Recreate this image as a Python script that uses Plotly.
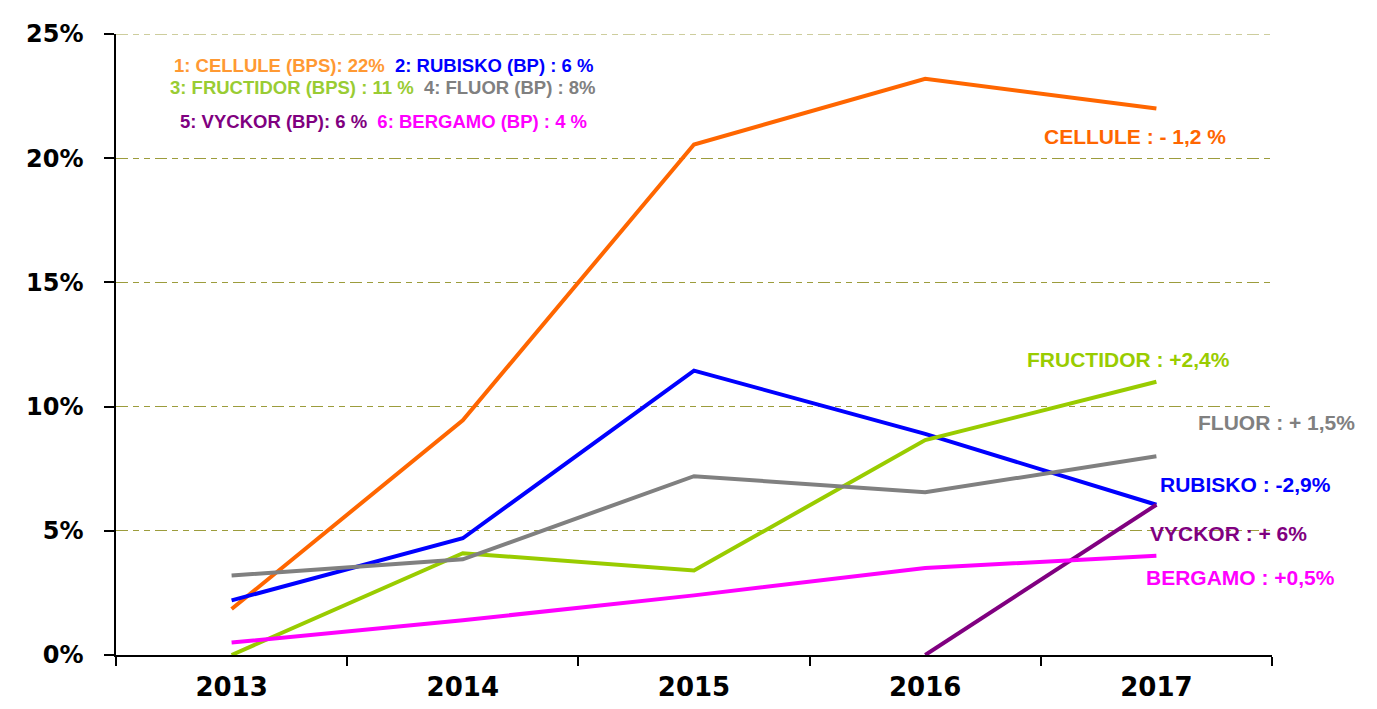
import plotly.graph_objects as go

years = ["2013", "2014", "2015", "2016", "2017"]
cellule = [1.85, 9.45, 20.55, 23.2, 22.0]
rubisko = [2.2, 4.7, 11.45, 8.9, 6.05]
fructidor = [0.0, 4.1, 3.4, 8.65, 11.0]
fluor = [3.2, 3.85, 7.2, 6.55, 8.0]
vyckor = [None, None, None, 0.0, 6.05]
bergamo = [0.5, 1.4, 2.4, 3.5, 4.0]

names = ["CELLULE", "RUBISKO", "FRUCTIDOR", "FLUOR", "VYCKOR", "BERGAMO"]
series = [cellule, rubisko, fructidor, fluor, vyckor, bergamo]
colors = ["#FF6600", "#0000FF", "#99CC00", "#808080", "#800080", "#FF00FF"]

y_ticks = [0, 5, 10, 15, 20, 25]
y_ticklabels = ["0%", "5%", "10%", "15%", "20%", "25%"]

end_labels = ["CELLULE : - 1,2 %", "RUBISKO : -2,9%", "FRUCTIDOR : +2,4%",
              "FLUOR : + 1,5%", "VYCKOR : + 6%", "BERGAMO : +0,5%"]
end_label_colors = ["#FF6600", "#0000FF", "#99CC00", "#808080", "#800080", "#FF00FF"]
# pixel centres on the page used for placement
end_label_pos = [(1135, 130), (1245, 482), (1128, 356), (1276, 420), (1228, 532), (1240, 577)]

W, H = 1377, 709
OFF = 8  # default body margin of the html page
L, R, T, B = 108, 113, 18, 62
PL, PT = L + OFF, T + OFF
PW, PH = W - L - R, H - T - B

GRID_COLOR = "#9c9c3c"
GRID_DASH = "12px,5px,6px,5px,6px,5px"

def px_to_paper(px, py):
    return (px - PL) / PW, 1 - (py - PT) / PH

fig = go.Figure()
for n, s, c in zip(names, series, colors):
    fig.add_trace(go.Scatter(x=years, y=s, mode="lines", name=n,
                             line=dict(color=c, width=4), connectgaps=False,
                             showlegend=False))

for txt, col, (px, py) in zip(end_labels, end_label_colors, end_label_pos):
    xp, yp = px_to_paper(px, py)
    fig.add_annotation(x=xp, y=yp, xref="paper", yref="paper", text="<b>" + txt + "</b>",
                       showarrow=False, xanchor="center", yanchor="middle",
                       font=dict(family="Liberation Sans", size=21, color=col))

legend_lines = [
    ("<span style='color:#FF9933'>1: CELLULE (BPS): 22%</span>  <span style='color:#0000FF'>2: RUBISKO (BP) : 6 %</span>", 58),
    ("<span style='color:#99CC33'>3: FRUCTIDOR (BPS) : 11 %</span>  <span style='color:#808080'>4: FLUOR (BP) : 8%</span>", 80),
    ("<span style='color:#800080'>5: VYCKOR (BP): 6 %</span>  <span style='color:#FF00FF'>6: BERGAMO (BP) : 4 %</span>", 115),
]
for txt, py in legend_lines:
    xp, yp = px_to_paper(383, py)
    fig.add_annotation(x=xp, y=yp, xref="paper", yref="paper", text="<b>" + txt + "</b>",
                       showarrow=False, xanchor="center", yanchor="middle",
                       font=dict(family="Liberation Sans", size=18.5))

# top gridline at the upper end of the value range
fig.add_shape(type="line", xref="paper", yref="y", x0=0, x1=1, y0=y_ticks[-1], y1=y_ticks[-1],
              line=dict(color=GRID_COLOR, width=1, dash=GRID_DASH), layer="below")

fig.update_layout(
    width=W, height=H,
    margin=dict(l=L, r=R, t=T, b=B),
    plot_bgcolor="white", paper_bgcolor="white",
)
fig.update_xaxes(
    type="category", range=[-0.5, 4.5],
    showline=True, linecolor="#000000", linewidth=1.5,
    ticks="outside", tickson="boundaries", ticklen=9, tickcolor="#000000", tickwidth=1.5,
    showgrid=False, ticklabelstandoff=8,
    tickfont=dict(family="DejaVu Sans", size=26, color="#000000", weight="bold"),
)
fig.update_yaxes(
    range=[0, 25], tickvals=y_ticks, ticktext=y_ticklabels,
    showline=True, linecolor="#000000", linewidth=1.5,
    ticks="outside", ticklen=10, tickcolor="#000000", tickwidth=1.5,
    showgrid=True, gridcolor=GRID_COLOR, gridwidth=1, griddash=GRID_DASH,
    zeroline=False, ticklabelstandoff=16,
    tickfont=dict(family="DejaVu Sans", size=24, color="#000000", weight="bold"),
)

fig.write_html("out.html")
